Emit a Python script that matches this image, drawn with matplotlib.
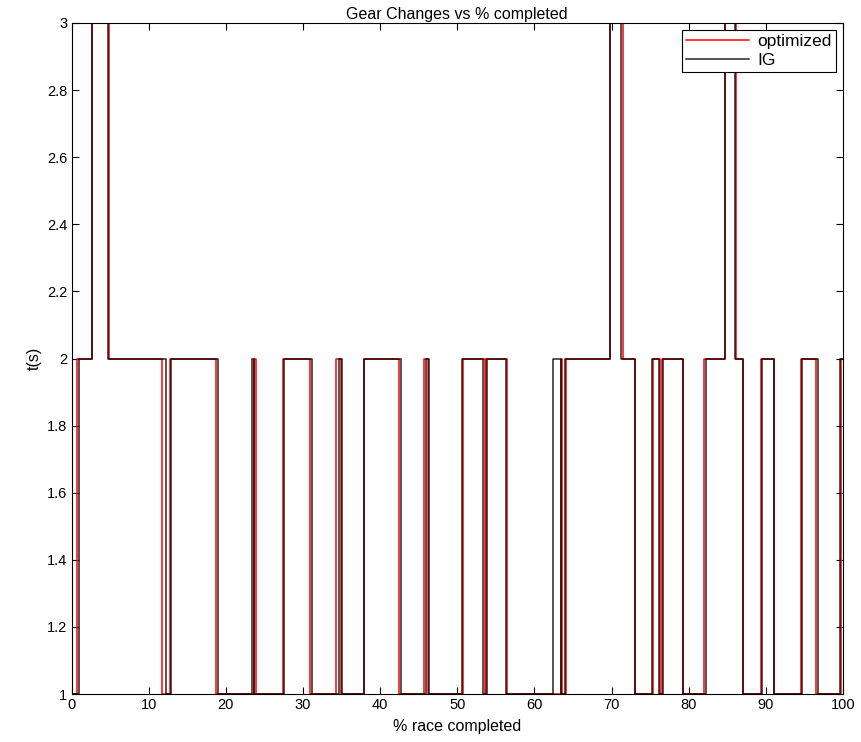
import matplotlib
matplotlib.use('Agg')
import matplotlib.pyplot as plt

plt.rcParams['font.family'] = ['Liberation Sans', 'DejaVu Sans']

# switch points (x) and the gear-change time held from that point on
opt_x = [0, 0.73, 2.6, 4.9, 11.75, 12.8, 18.7, 23.7, 23.9, 27.4, 30.9, 34.3, 34.9,
         37.9, 42.4, 45.7, 46.2, 50.7, 53.6, 53.75, 56.4, 63.4, 63.6, 64.1, 69.8,
         71.5, 73.0, 75.4, 76.3, 76.5, 79.2, 82.0, 84.7, 86.1, 87.0, 89.4, 91.1,
         94.6, 96.5, 99.7, 100]
opt_y = [1, 2, 3, 2, 1, 2, 1, 2, 1, 2, 1, 2, 1,
         2, 1, 2, 1, 2, 1, 2, 1, 2, 1, 2, 3,
         2, 1, 2, 1, 2, 1, 2, 3, 2, 1, 2, 1,
         2, 1, 2, 2]

ig_x = [0, 0.95, 2.6, 4.75, 12.3, 12.87, 18.95, 23.4, 23.6, 27.6, 31.2, 34.7, 35.1,
        37.9, 42.65, 45.9, 46.4, 50.6, 53.4, 53.9, 56.3, 62.4, 63.4, 64.0, 69.8,
        71.2, 73.0, 75.2, 76.2, 76.7, 79.2, 82.2, 84.7, 86.0, 87.0, 89.5, 91.1,
        94.7, 96.7, 99.6, 100]
ig_y = [1, 2, 3, 2, 1, 2, 1, 2, 1, 2, 1, 2, 1,
        2, 1, 2, 1, 2, 1, 2, 1, 2, 1, 2, 3,
        2, 1, 2, 1, 2, 1, 2, 3, 2, 1, 2, 1,
        2, 1, 2, 2]

x_ticks = list(range(0, 101, 10))
y_ticks = [1, 1.2, 1.4, 1.6, 1.8, 2, 2.2, 2.4, 2.6, 2.8, 3]
y_labels = ['1', '1.2', '1.4', '1.6', '1.8', '2', '2.2', '2.4', '2.6', '2.8', '3']

fig = plt.figure(figsize=(8.61, 7.42), dpi=100)
# axes box in pixels: left 71.5, right 843, top 23, bottom 694
ax = fig.add_axes([71.5 / 861, (742 - 694) / 742, (843 - 71.5) / 861, (694 - 23) / 742])

ax.plot(opt_x, opt_y, drawstyle='steps-post', color='red', lw=1.1, label='optimized')
ax.plot(ig_x, ig_y, drawstyle='steps-post', color='black', lw=1.1, alpha=0.85, label='IG')

ax.set_xlim(0, 100)
ax.set_ylim(1, 3)
ax.set_xticks(x_ticks)
ax.set_yticks(y_ticks)
ax.set_yticklabels(y_labels)
ax.tick_params(direction='in', top=True, right=True, length=5, width=0.8,
               labelsize=10.5, pad=3)
for s in ax.spines.values():
    s.set_linewidth(0.8)

ax.set_title('Gear Changes vs % completed', fontsize=11.5, pad=3)
ax.set_xlabel('% race completed', fontsize=11.5, labelpad=5)
ax.set_ylabel('t(s)', fontsize=11.5, labelpad=4)

leg = ax.legend(loc='upper right', fontsize=12.5, fancybox=False, framealpha=1,
                edgecolor='black', borderaxespad=0.4, handlelength=3.6,
                borderpad=0.25, labelspacing=0.2, handletextpad=0.5)
leg.get_frame().set_linewidth(0.8)

fig.savefig('out.png', dpi=100)
